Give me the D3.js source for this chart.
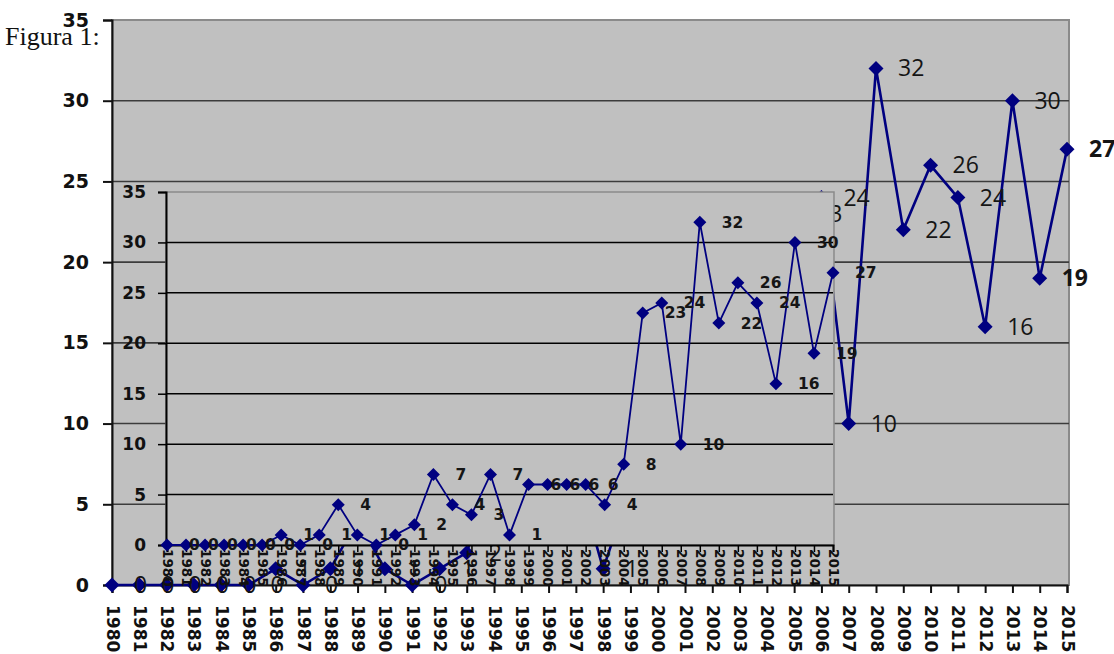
<!DOCTYPE html>
<html>
<head>
<meta charset="utf-8">
<script src="https://cdn.jsdelivr.net/npm/d3@7"></script>
<style>
  body { margin: 0; background: #fff; }
  svg { display: block; }
</style>
</head>
<body>
<div id="chart"></div>
<script>
const width = 1114;
const height = 654;

// Data: yearly counts 1980-2015
const years = d3.range(1980, 2016).map(String);
const counts = [0, 0, 0, 0, 0, 0, 1, 0, 1, 4, 1, 0, 1, 2, 7, 4, 3, 7, 1, 6,
                6, 6, 6, 4, 8, 23, 24, 10, 32, 22, 26, 24, 16, 30, 19, 27];
const yTicks = [0, 5, 10, 15, 20, 25, 30, 35];
const boldLabelYears = ["2014", "2015"];

const data = years.map((y, i) => ({ year: y, value: counts[i] }));

const navy = "#000080";

const svg = d3.select("#chart")
  .append("svg")
  .attr("width", width)
  .attr("height", height);

svg.append("rect").attr("width", width).attr("height", height).attr("fill", "#fff");

// diamond marker path
function diamond(r) {
  return `M0,${-r}L${r},0L0,${r}L${-r},0Z`;
}

// ---------- Outer chart ----------
const outer = { left: 112, right: 1067, top: 20, bottom: 585, edge: 1069 };

const x1 = d3.scalePoint().domain(years).range([outer.left, outer.right]);
const y1 = d3.scaleLinear().domain([0, 35]).range([outer.bottom, outer.top]);

const g1 = svg.append("g");

g1.append("rect")
  .attr("x", outer.left)
  .attr("y", outer.top)
  .attr("width", outer.edge - outer.left)
  .attr("height", outer.bottom - outer.top)
  .attr("fill", "#c0c0c0")
  .attr("stroke", "#8a8a8a")
  .attr("stroke-width", 2);

// gridlines
g1.selectAll(".grid1")
  .data(yTicks.filter(d => d > 0 && d < 35))
  .enter()
  .append("line")
  .attr("x1", outer.left)
  .attr("x2", outer.edge)
  .attr("y1", d => y1(d))
  .attr("y2", d => y1(d))
  .attr("stroke", "#3c3c3c")
  .attr("stroke-width", 1.6);

// y axis
g1.append("g")
  .attr("transform", `translate(${outer.left},0)`)
  .call(d3.axisLeft(y1).tickValues(yTicks).tickSize(9).tickPadding(14))
  .call(g => g.select(".domain").attr("stroke", "#111").attr("stroke-width", 2))
  .call(g => g.selectAll(".tick line").attr("stroke", "#111").attr("stroke-width", 2))
  .call(g => g.selectAll("text")
    .attr("font-family", "DejaVu Sans")
    .attr("font-weight", "bold")
    .attr("font-size", 19)
    .attr("fill", "#111"));

// x axis
g1.append("g")
  .attr("transform", `translate(0,${outer.bottom})`)
  .call(d3.axisBottom(x1).tickSize(8).tickPadding(0))
  .call(g => g.select(".domain").attr("stroke", "#111").attr("stroke-width", 2))
  .call(g => g.selectAll(".tick line").attr("stroke", "#111").attr("stroke-width", 2))
  .call(g => g.selectAll("text")
    .attr("font-family", "DejaVu Sans")
    .attr("font-weight", "bold")
    .attr("font-size", 17)
    .attr("fill", "#111")
    .attr("text-anchor", "start")
    .attr("transform", "rotate(90)")
    .attr("x", 20)
    .attr("y", 0)
    .attr("dy", "0.35em"));

// series
const line1 = d3.line().x(d => x1(d.year)).y(d => y1(d.value));

g1.append("path")
  .datum(data)
  .attr("d", line1)
  .attr("fill", "none")
  .attr("stroke", navy)
  .attr("stroke-width", 2.6);

g1.selectAll(".m1")
  .data(data)
  .enter()
  .append("path")
  .attr("d", diamond(7.5))
  .attr("transform", d => `translate(${x1(d.year)},${y1(d.value)})`)
  .attr("fill", navy);

g1.selectAll(".l1")
  .data(data)
  .enter()
  .append("text")
  .attr("x", d => x1(d.year) + 22)
  .attr("y", d => y1(d.value))
  .attr("dy", "0.35em")
  .attr("font-family", "Open Sans")
  .attr("font-size", 23)
  .attr("font-weight", d => boldLabelYears.includes(d.year) ? "bold" : "normal")
  .attr("fill", "#151515")
  .text(d => d.value);

// ---------- Inset chart (overlapping) ----------
const inset = { left: 167, right: 833, top: 192, bottom: 545, axis: 166 };

const x2 = d3.scalePoint().domain(years).range([inset.left, inset.right]);
const y2 = d3.scaleLinear().domain([0, 35]).range([inset.bottom, inset.top]);

const g2 = svg.append("g");

g2.append("rect")
  .attr("x", inset.axis)
  .attr("y", inset.top)
  .attr("width", inset.right - inset.axis + 1)
  .attr("height", inset.bottom - inset.top)
  .attr("fill", "#c0c0c0")
  .attr("stroke", "#8a8a8a")
  .attr("stroke-width", 1.5);

g2.selectAll(".grid2")
  .data(yTicks.filter(d => d > 0 && d < 35))
  .enter()
  .append("line")
  .attr("x1", inset.axis)
  .attr("x2", inset.right)
  .attr("y1", d => y2(d))
  .attr("y2", d => y2(d))
  .attr("stroke", "#000")
  .attr("stroke-width", 1.5);

g2.append("g")
  .attr("transform", `translate(${inset.axis},0)`)
  .call(d3.axisLeft(y2).tickValues(yTicks).tickSize(8).tickPadding(12))
  .call(g => g.select(".domain").attr("stroke", "#000").attr("stroke-width", 2))
  .call(g => g.selectAll(".tick line").attr("stroke", "#000").attr("stroke-width", 1.5))
  .call(g => g.selectAll("text")
    .attr("font-family", "DejaVu Sans")
    .attr("font-weight", "bold")
    .attr("font-size", 17)
    .attr("fill", "#111"));

g2.append("g")
  .attr("transform", `translate(0,${inset.bottom})`)
  .call(d3.axisBottom(x2).tickSize(7).tickPadding(0))
  .call(g => g.select(".domain").attr("stroke", "#000").attr("stroke-width", 2))
  .call(g => g.selectAll(".tick line").attr("stroke", "#000").attr("stroke-width", 1.5))
  .call(g => g.selectAll("text")
    .attr("font-family", "DejaVu Sans")
    .attr("font-weight", "bold")
    .attr("font-size", 13.5)
    .attr("fill", "#111")
    .attr("text-anchor", "start")
    .attr("transform", "rotate(90)")
    .attr("x", 4)
    .attr("y", 0)
    .attr("dy", "0.35em"));

const line2 = d3.line().x(d => x2(d.year)).y(d => y2(d.value));

g2.append("path")
  .datum(data)
  .attr("d", line2)
  .attr("fill", "none")
  .attr("stroke", navy)
  .attr("stroke-width", 1.8);

g2.selectAll(".m2")
  .data(data)
  .enter()
  .append("path")
  .attr("d", diamond(6.5))
  .attr("transform", d => `translate(${x2(d.year)},${y2(d.value)})`)
  .attr("fill", navy);

g2.selectAll(".l2")
  .data(data)
  .enter()
  .append("text")
  .attr("x", d => x2(d.year) + 22)
  .attr("y", d => y2(d.value))
  .attr("dy", "0.35em")
  .attr("font-family", "DejaVu Sans")
  .attr("font-weight", "bold")
  .attr("font-size", 15.5)
  .attr("fill", "#151515")
  .text(d => d.value);

// caption
svg.append("text")
  .attr("x", 5)
  .attr("y", 45)
  .attr("font-family", "Liberation Serif")
  .attr("font-size", 26)
  .attr("fill", "#111")
  .text("Figura 1:");
</script>
</body>
</html>
